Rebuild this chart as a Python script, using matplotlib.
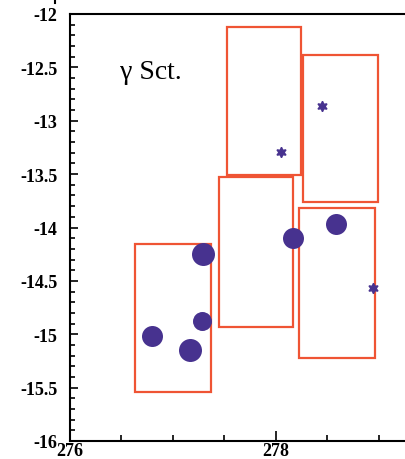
import numpy as np
import matplotlib
matplotlib.use("Agg")
from matplotlib import pyplot as plt
from matplotlib.patches import Rectangle
import matplotlib.lines as mlines

# Error boxes: (x left, y bottom, width, height)
box_x = [276.63, 277.45, 277.53, 278.27, 278.23]
box_y = [-15.54, -14.93, -13.51, -13.76, -15.22]
box_w = [0.74, 0.72, 0.72, 0.72, 0.74]
box_h = [1.39, 1.40, 1.39, 1.38, 1.40]

# Large dots
dot_x = [277.29, 277.28, 276.80, 277.17, 278.17, 278.59]
dot_y = [-14.25, -14.88, -15.02, -15.15, -14.10, -13.97]
dot_d = [23, 19, 21, 23, 21, 21]   # diameters in px

# Small stars
star_x = [278.05, 278.45, 278.95]
star_y = [-13.29, -12.865, -14.57]

box_color = '#ef5434'
dot_color = '#47328f'

fig = plt.figure(figsize=(4.05, 4.6), dpi=100)
ax = fig.add_axes([70/405, 18/460, 4*102.85/405, 427/460])

for x, y, w, h in zip(box_x, box_y, box_w, box_h):
    ax.add_patch(Rectangle((x, y), w, h, fill=False, edgecolor=box_color, lw=1.6, zorder=2))

for x, y, d in zip(dot_x, dot_y, dot_d):
    ax.plot(x, y, 'o', color=dot_color, ms=d*72/100, mec='none', zorder=3)

ax.plot(star_x, star_y, ls='', marker=(6, 1, 0), color=dot_color, ms=7.5, mec=dot_color, zorder=3)

ax.text(276.49, -12.54, 'γ Sct.', fontsize=20, family='Liberation Serif', va='center', ha='left')

ax.set_xlim(276, 280)
ax.set_ylim(-16, -12)
ax.set_xticks([276, 278])
ax.set_xticks(np.arange(276, 280.01, 0.5), minor=True)
ax.set_yticks(np.arange(-16, -11.99, 0.5))
ax.set_yticks(np.arange(-16, -11.99, 0.1), minor=True)
ax.set_yticklabels(['-16', '-15.5', '-15', '-14.5', '-14', '-13.5', '-13', '-12.5', '-12'])
ax.tick_params(axis='both', which='both', direction='in', top=False, right=False, width=1.2)
ax.tick_params(axis='y', which='major', length=6, pad=9)
ax.tick_params(axis='y', which='minor', length=3.5)
ax.tick_params(axis='x', which='major', length=7, pad=1)
ax.tick_params(axis='x', which='minor', length=4)
for lab in ax.get_xticklabels() + ax.get_yticklabels():
    lab.set_family('Liberation Serif')
    lab.set_fontweight('bold')
    lab.set_fontsize(13)
for s in ax.spines.values():
    s.set_linewidth(1.5)
ax.spines['right'].set_visible(False)

# stray tick from the panel above
fig.add_artist(mlines.Line2D([55/405, 55/405], [1, 1 - 4/460], color='black', lw=1.5))

fig.savefig('out.png', dpi=100)
